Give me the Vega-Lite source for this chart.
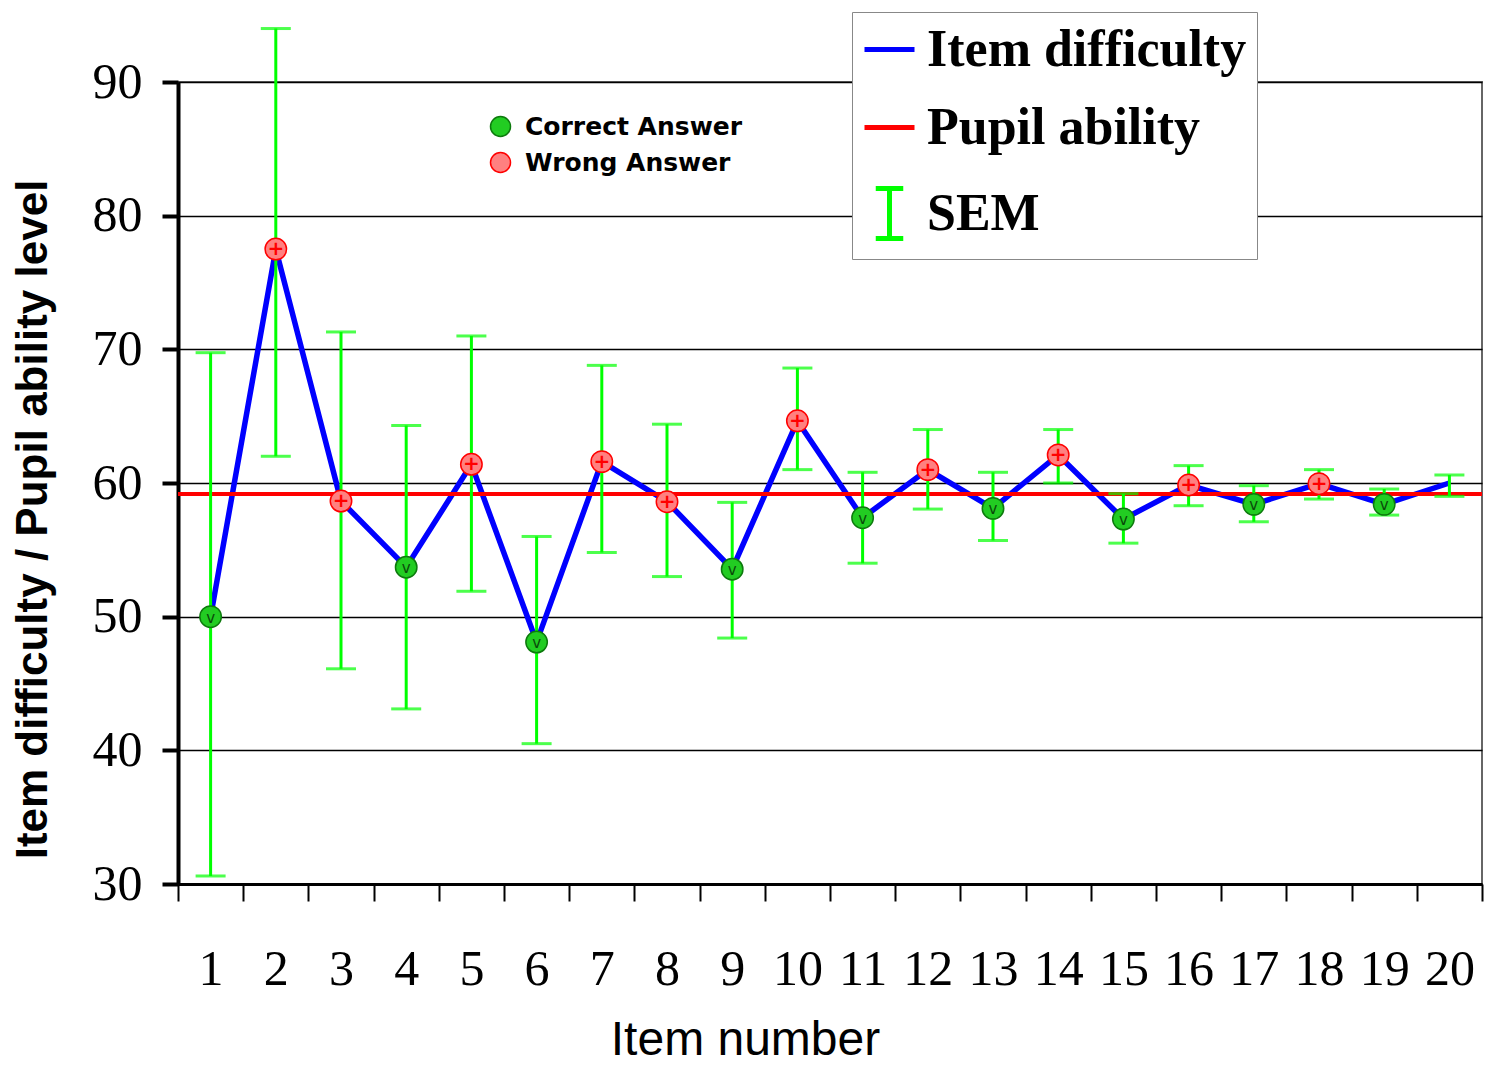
{
  "$schema": "https://vega.github.io/schema/vega-lite/v6.json",
  "width": 1304,
  "height": 802,
  "autosize": "none",
  "padding": {"left": 178, "top": 82, "right": 29, "bottom": 183},
  "background": "white",
  "config": {
    "view": {"stroke": "#666666", "strokeWidth": 2},
    "axis": {"labelColor": "black", "titleColor": "black"}
  },
  "data": {
    "values": [
      {"item": 1, "diff": 50.0, "lo": 30.6, "hi": 69.75, "answer": "Correct Answer"},
      {"item": 2, "diff": 77.5, "lo": 62.0, "hi": 94.0, "answer": "Wrong Answer"},
      {"item": 3, "diff": 58.65, "lo": 46.1, "hi": 71.3, "answer": "Wrong Answer"},
      {"item": 4, "diff": 53.7, "lo": 43.1, "hi": 64.3, "answer": "Correct Answer"},
      {"item": 5, "diff": 61.4, "lo": 51.9, "hi": 71.0, "answer": "Wrong Answer"},
      {"item": 6, "diff": 48.1, "lo": 40.5, "hi": 56.0, "answer": "Correct Answer"},
      {"item": 7, "diff": 61.6, "lo": 54.8, "hi": 68.8, "answer": "Wrong Answer"},
      {"item": 8, "diff": 58.6, "lo": 53.0, "hi": 64.4, "answer": "Wrong Answer"},
      {"item": 9, "diff": 53.55, "lo": 48.4, "hi": 58.55, "answer": "Correct Answer"},
      {"item": 10, "diff": 64.65, "lo": 61.0, "hi": 68.6, "answer": "Wrong Answer"},
      {"item": 11, "diff": 57.4, "lo": 54.0, "hi": 60.8, "answer": "Correct Answer"},
      {"item": 12, "diff": 61.0, "lo": 58.05, "hi": 64.0, "answer": "Wrong Answer"},
      {"item": 13, "diff": 58.1, "lo": 55.7, "hi": 60.8, "answer": "Correct Answer"},
      {"item": 14, "diff": 62.1, "lo": 60.0, "hi": 64.0, "answer": "Wrong Answer"},
      {"item": 15, "diff": 57.3, "lo": 55.5, "hi": 59.2, "answer": "Correct Answer"},
      {"item": 16, "diff": 59.85, "lo": 58.3, "hi": 61.3, "answer": "Wrong Answer"},
      {"item": 17, "diff": 58.4, "lo": 57.1, "hi": 59.8, "answer": "Correct Answer"},
      {"item": 18, "diff": 59.95, "lo": 58.8, "hi": 61.0, "answer": "Wrong Answer"},
      {"item": 19, "diff": 58.4, "lo": 57.6, "hi": 59.55, "answer": "Correct Answer"},
      {"item": 20, "diff": 60.0, "lo": 59.0, "hi": 60.6, "answer": ""}
    ]
  },
  "layer": [
    {
      "mark": {"type": "line", "color": "#0000ff", "strokeWidth": 5.5},
      "encoding": {
        "x": {
          "field": "item",
          "type": "ordinal",
          "scale": {"type": "band", "paddingInner": 0, "paddingOuter": 0},
          "axis": {
            "title": "Item number",
            "titleFont": "Liberation Sans",
            "titleFontSize": 48,
            "titleFontWeight": "normal",
            "titleX": 567,
            "titleY": 170,
            "titleBaseline": "alphabetic",
            "titleAlign": "center",
            "labelAngle": 0,
            "labelFont": "Liberation Serif",
            "labelFontSize": 50,
            "labelBaseline": "alphabetic",
            "labelPadding": 83,
            "labelColor": "black",
            "tickBand": "extent",
            "tickSize": 17,
            "tickWidth": 2,
            "tickColor": "black",
            "domainColor": "black",
            "domainWidth": 3,
            "grid": false
          }
        },
        "y": {
          "field": "diff",
          "type": "quantitative",
          "title": "Item difficulty / Pupil ability level",
          "scale": {"domain": [30, 90], "nice": false, "zero": false},
          "axis": {
            "values": [30, 40, 50, 60, 70, 80, 90],
            "titleFont": "Liberation Sans",
            "titleFontSize": 44,
            "titleFontWeight": "bold",
            "titleAngle": -90,
            "titleX": -132,
            "titleY": 437,
            "titleAlign": "center",
            "titleBaseline": "alphabetic",
            "labelFont": "Liberation Serif",
            "labelFontSize": 50,
            "labelPadding": 20,
            "labelColor": "black",
            "tickSize": 16,
            "tickWidth": 4,
            "tickColor": "black",
            "domainColor": "black",
            "domainWidth": 4,
            "grid": true,
            "gridColor": "black",
            "gridWidth": 1.5,
            "gridOpacity": 1
          }
        }
      }
    },
    {
      "mark": {"type": "rule", "color": "#ff0000", "strokeWidth": 3.5},
      "encoding": {"y": {"datum": 59.2, "type": "quantitative"}}
    },
    {
      "mark": {
        "type": "errorbar",
        "ticks": {"size": 30, "thickness": 3, "color": "#00ff00"},
        "rule": {"strokeWidth": 3, "color": "#00ff00"},
        "color": "#00ff00"
      },
      "encoding": {
        "x": {"field": "item", "type": "ordinal"},
        "y": {"field": "lo", "type": "quantitative", "title": "Item difficulty / Pupil ability level"},
        "y2": {"field": "hi"}
      }
    },
    {
      "transform": [{"filter": "datum.answer != ''"}],
      "mark": {"type": "point", "filled": true, "size": 460, "shape": "circle", "strokeWidth": 1.5, "opacity": 1},
      "encoding": {
        "x": {"field": "item", "type": "ordinal"},
        "y": {"field": "diff", "type": "quantitative", "title": "Item difficulty / Pupil ability level"},
        "fill": {
          "field": "answer",
          "type": "nominal",
          "scale": {"domain": ["Correct Answer", "Wrong Answer"], "range": ["#22cc22", "#ff8080"]},
          "legend": {
            "title": null,
            "orient": "none",
            "legendX": 310,
            "legendY": 32,
            "padding": 0,
            "symbolSize": 400,
            "symbolType": "circle",
            "symbolStrokeWidth": 1.5,
            "symbolOpacity": 1,
            "labelFont": "DejaVu Sans",
            "labelFontSize": 25,
            "labelFontWeight": "bold",
            "labelColor": "black",
            "labelOffset": 12,
            "labelLimit": 500,
            "rowPadding": 9,
            "encode": {
              "symbols": {"update": {"stroke": {"scale": "stroke", "field": "value"}, "opacity": {"value": 1}}}
            }
          }
        },
        "stroke": {
          "field": "answer",
          "type": "nominal",
          "scale": {"domain": ["Correct Answer", "Wrong Answer"], "range": ["#0d7a0d", "#ff0000"]},
          "legend": null
        }
      }
    },
    {
      "transform": [{"filter": "datum.answer == 'Correct Answer'"}],
      "mark": {"type": "text", "text": "v", "font": "DejaVu Sans", "fontSize": 15, "color": "#0a4a0a", "baseline": "middle", "dy": 1},
      "encoding": {
        "x": {"field": "item", "type": "ordinal"},
        "y": {"field": "diff", "type": "quantitative", "title": "Item difficulty / Pupil ability level"}
      }
    },
    {
      "transform": [{"filter": "datum.answer == 'Wrong Answer'"}],
      "mark": {"type": "text", "text": "+", "font": "DejaVu Sans", "fontSize": 20, "fontWeight": "bold", "color": "#ff0000", "baseline": "middle", "dy": 0},
      "encoding": {
        "x": {"field": "item", "type": "ordinal"},
        "y": {"field": "diff", "type": "quantitative", "title": "Item difficulty / Pupil ability level"}
      }
    },
    {
      "transform": [{"filter": "datum.item < 0"}],
      "mark": {"type": "point", "filled": false, "size": 2500, "opacity": 1},
      "encoding": {
        "x": {"field": "item", "type": "ordinal"},
        "y": {"field": "diff", "type": "quantitative", "title": "Item difficulty / Pupil ability level"},
        "color": {
          "field": "series",
          "type": "nominal",
          "scale": {"domain": ["Item difficulty", "Pupil ability", "SEM"], "range": ["#0000ff", "#ff0000", "#00ff00"]},
          "legend": {
            "title": null,
            "orient": "none",
            "legendX": 674,
            "legendY": -70,
            "padding": 10,
            "fillColor": "white",
            "strokeColor": "#888888",
            "symbolSize": 2500,
            "symbolStrokeWidth": 5,
            "symbolOpacity": 1,
            "labelFont": "Liberation Serif",
            "labelFontSize": 52,
            "labelFontWeight": "bold",
            "labelColor": "black",
            "labelOffset": 10,
            "labelLimit": 600,
            "rowPadding": 24,
            "encode": {
              "symbols": {
                "update": {
                  "stroke": {"scale": "color", "field": "value"},
                  "opacity": {"value": 1},
                  "strokeWidth": {"signal": "datum.value === 'SEM' ? 3 : 5"}
                }
              }
            }
          }
        },
        "shape": {
          "field": "series",
          "type": "nominal",
          "scale": {"domain": ["Item difficulty", "Pupil ability", "SEM"], "range": ["M-1,0H1", "M-1,0H1", "M-0.55,-1H0.55M0,-1V1M-0.55,1H0.55"]},
          "legend": {
            "title": null,
            "orient": "none",
            "legendX": 674,
            "legendY": -70,
            "padding": 10,
            "fillColor": "white",
            "strokeColor": "#888888",
            "symbolSize": 2500,
            "symbolStrokeWidth": 5,
            "symbolOpacity": 1,
            "labelFont": "Liberation Serif",
            "labelFontSize": 52,
            "labelFontWeight": "bold",
            "labelColor": "black",
            "labelOffset": 10,
            "labelLimit": 600,
            "rowPadding": 24,
            "encode": {
              "symbols": {
                "update": {
                  "stroke": {"scale": "color", "field": "value"},
                  "opacity": {"value": 1},
                  "strokeWidth": {"signal": "datum.value === 'SEM' ? 3 : 5"}
                }
              }
            }
          }
        }
      }
    }
  ]
}
